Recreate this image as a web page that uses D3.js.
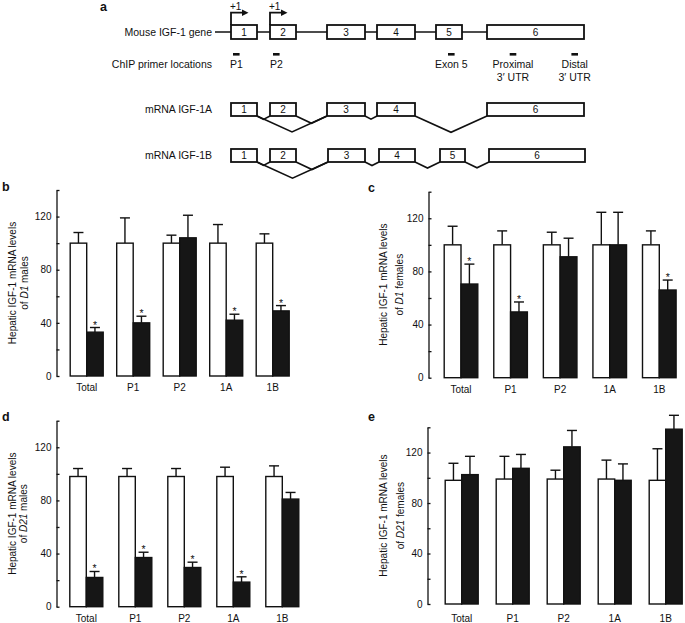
<!DOCTYPE html>
<html>
<head>
<meta charset="utf-8">
<script src="https://cdn.jsdelivr.net/npm/d3@7"></script>
<style>
  body { margin: 0; background: #fff; }
  text { font-family: "Liberation Sans", Arial, sans-serif; fill: #111; }
</style>
</head>
<body>
<svg class="fig"></svg>
<script>
    const width = 685;
    const height = 623;

    // ---- panel a: gene diagram (diagram units, mapped by xGene) ----
    const exonNames = ["1", "2", "3", "4", "5", "6"];
    const geneExons = [[0, 26], [39, 65], [96, 134], [146, 184], [205, 231], [256, 353]];
    const isoA = [0, 1, 2, 3, 5];
    const isoB = [0, 1, 2, 3, 4, 5];
    const isoBExons = [[0, 26], [39, 65], [97, 134], [148, 184], [209, 234], [258, 354]];
    const tssExons = [0, 1];
    const primerNames = [["P1"], ["P2"], ["Exon 5"], ["Proximal", "3\u2032 UTR"], ["Distal", "3\u2032 UTR"]];
    const primerPos = [5.3, 45.3, 220.3, 282, 343.7];

    // ---- bar panels ----
    const categories = ["Total", "P1", "P2", "1A", "1B"];
    const yTicks = [0, 20, 40, 60, 80, 100, 120, 140];

    const bWhite = [100, 100, 100, 100, 100];
    const bWhiteErr = [8, 19, 6, 14, 7];
    const bBlack = [33, 40, 104, 42, 49];
    const bBlackErr = [3.5, 5, 17, 4.5, 4];
    const bSig = [1, 1, 0, 1, 1];

    const cWhite = [100, 100, 100, 100, 100];
    const cWhiteErr = [14, 10.5, 9.5, 24.5, 10.5];
    const cBlack = [70.5, 49.5, 91, 100, 66];
    const cBlackErr = [15, 7.5, 14, 24.5, 7.5];
    const cSig = [1, 1, 0, 0, 1];

    const dWhite = [98, 98, 98, 98, 98];
    const dWhiteErr = [6, 6, 6, 7, 8];
    const dBlack = [22, 37, 29.5, 18.5, 81];
    const dBlackErr = [4.5, 4, 4, 4, 5];
    const dSig = [1, 1, 1, 1, 0];

    const eWhite = [98, 99, 99, 99, 98];
    const eWhiteErr = [13.5, 18, 7, 15, 25];
    const eBlack = [102.5, 107.5, 124.5, 98, 138.5];
    const eBlackErr = [14.5, 11, 13, 13, 11];
    const eSig = [0, 0, 0, 0, 0];

    const svg = d3.select('.fig')
      .attr('width', width).attr('height', height);
    svg.append('rect').attr('width', width).attr('height', height).attr('fill', '#fff');

    drawGene();

    const panels = [
      { letter: 'b', white: bWhite, wErr: bWhiteErr, black: bBlack, kErr: bBlackErr, sig: bSig,
        mouse: 'D1', sex: 'males', ax: 56.5, y0: 376, yTop: 190, first: 86.7, last: 272.7, bw: 16.5,
        lx: 2, ly: 191, t1: 12.5, t2: 24, xl: 391 },
      { letter: 'c', white: cWhite, wErr: cWhiteErr, black: cBlack, kErr: cBlackErr, sig: cSig,
        mouse: 'D1', sex: 'females', ax: 428.5, y0: 377.7, yTop: 191.7, first: 461, last: 659.3, bw: 16.8,
        lx: 368, ly: 192, t1: 383, t2: 399, xl: 393 },
      { letter: 'd', white: dWhite, wErr: dWhiteErr, black: dBlack, kErr: dBlackErr, sig: dSig,
        mouse: 'D21', sex: 'males', ax: 56.5, y0: 606.7, yTop: 420.7, first: 86.3, last: 282.3, bw: 16.5,
        lx: 2, ly: 421, t1: 12.5, t2: 23.5, xl: 622 },
      { letter: 'e', white: eWhite, wErr: eWhiteErr, black: eBlack, kErr: eBlackErr, sig: eSig,
        mouse: 'D21', sex: 'females', ax: 427.5, y0: 604, yTop: 427.3, first: 461.7, last: 665.7, bw: 16.5,
        lx: 368, ly: 420.5, t1: 383, t2: 400, xl: 622 }
    ];
    panels.forEach(drawBars);

    function drawGene() {
      const g = svg.append('g');
      const x = d3.scaleLinear().domain([0, 355]).range([231, 586]);
      const labelX = 212;

      g.append('text').attr('x', 100).attr('y', 11)
        .style('font-weight', 'bold').style('font-size', '12.5px').text('a');

      // rows: gene, IGF-1A, IGF-1B
      const rows = [
        { name: 'Mouse IGF-1 gene', yc: 32, h: 14, exons: geneExons, idx: [0, 1, 2, 3, 4, 5], spliced: false },
        { name: 'mRNA IGF-1A', yc: 109.5, h: 13, exons: geneExons, idx: isoA, spliced: true },
        { name: 'mRNA IGF-1B', yc: 155.5, h: 13, exons: isoBExons, idx: isoB, spliced: true }
      ];

      rows.forEach(row => {
        g.append('text').attr('x', labelX).attr('y', row.yc + 3.8)
          .attr('text-anchor', 'end').style('font-size', '10.5px').text(row.name);

        if (!row.spliced) {
          g.append('line')
            .attr('x1', 215).attr('x2', x(row.exons[5][0]))
            .attr('y1', row.yc).attr('y2', row.yc)
            .attr('stroke', '#111').attr('stroke-width', 1.6);
        } else {
          const bottom = row.yc + row.h / 2;
          for (let i = 0; i < row.idx.length - 1; i++) {
            const a = row.exons[row.idx[i]], b = row.exons[row.idx[i + 1]];
            const x1 = x(a[1]), x2 = x(b[0]);
            const depth = 0.22 * (x2 - x1) + 0.5;
            g.append('polyline')
              .attr('points', [[x1, bottom], [(x1 + x2) / 2, bottom + depth], [x2, bottom]].join(' '))
              .attr('fill', 'none').attr('stroke', '#111').attr('stroke-width', 1.6);
          }
          // exon 2 also splices to exon 3 via the first junction
          if (row.idx[1] === 1) {
            const a = row.exons[0], b = row.exons[2];
            const x1 = x(a[1]), x2 = x(b[0]);
            const depth = 0.22 * (x2 - x1) + 0.5;
            g.append('polyline')
              .attr('points', [[x1, bottom], [(x1 + x2) / 2, bottom + depth], [x2, bottom]].join(' '))
              .attr('fill', 'none').attr('stroke', '#111').attr('stroke-width', 1.6);
          }
        }

        row.idx.forEach(i => {
          const e = row.exons[i];
          g.append('rect')
            .attr('x', x(e[0])).attr('y', row.yc - row.h / 2)
            .attr('width', x(e[1]) - x(e[0])).attr('height', row.h)
            .attr('fill', '#fff').attr('stroke', '#111').attr('stroke-width', 1.8);
          g.append('text')
            .attr('x', (x(e[0]) + x(e[1])) / 2).attr('y', row.yc + 3.6)
            .attr('text-anchor', 'middle').style('font-size', '10px').text(exonNames[i]);
        });
      });

      // transcription start arrows
      const top = 32 - 7;
      tssExons.forEach(i => {
        const x0 = x(geneExons[i][0]);
        g.append('polyline')
          .attr('points', [[x0, top], [x0, 12.7], [x0 + 12, 12.7]].join(' '))
          .attr('fill', 'none').attr('stroke', '#111').attr('stroke-width', 1.8);
        g.append('path')
          .attr('d', `M${x0 + 11},9.5 L${x0 + 17.5},12.7 L${x0 + 11},15.9 Z`)
          .attr('fill', '#111');
        g.append('text').attr('x', x0 - 1).attr('y', 9.5)
          .style('font-size', '10px').text('+1');
      });

      // ChIP primers
      g.append('text').attr('x', labelX).attr('y', 67.7)
        .attr('text-anchor', 'end').style('font-size', '10.5px').text('ChIP primer locations');
      primerPos.forEach((p, i) => {
        g.append('rect')
          .attr('x', x(p) - 3.3).attr('y', 53).attr('width', 6.6).attr('height', 2.6)
          .attr('fill', '#111');
        primerNames[i].forEach((s, j) => {
          g.append('text')
            .attr('x', x(p)).attr('y', 67.7 + j * 13.5)
            .attr('text-anchor', 'middle').style('font-size', '10.5px').text(s);
        });
      });
    }

    function drawBars(p) {
      const g = svg.append('g');
      const y = d3.scaleLinear().domain([0, 140]).range([p.y0, p.yTop]);
      const xc = d3.scalePoint().domain(categories).range([p.first, p.last]);

      g.append('text').attr('x', p.lx).attr('y', p.ly)
        .style('font-weight', 'bold').style('font-size', '12.5px').text(p.letter);

      const axis = d3.axisLeft(y)
        .tickValues(yTicks)
        .tickFormat(d => d % 40 === 0 ? d : '')
        .tickSizeInner(-3)
        .tickSizeOuter(0)
        .tickPadding(5);
      const ag = g.append('g').attr('transform', `translate(${p.ax},0)`).call(axis);
      ag.select('.domain').attr('stroke', '#111').attr('stroke-width', 1.3);
      ag.selectAll('.tick line').attr('stroke', '#111').attr('stroke-width', 1.3);
      ag.selectAll('.tick text')
        .style('font-family', '"Liberation Sans", Arial, sans-serif')
        .style('font-size', '10px').attr('fill', '#111');

      // y label
      const midY = (p.y0 + p.yTop) / 2;
      g.append('text')
        .attr('transform', `translate(${p.t1},${midY}) rotate(-90)`)
        .attr('text-anchor', 'middle').attr('dy', '0.35em')
        .style('font-size', '10px').text('Hepatic IGF-1 mRNA levels');
      const t2 = g.append('text')
        .attr('transform', `translate(${p.t2},${midY}) rotate(-90)`)
        .attr('text-anchor', 'middle').attr('dy', '0.35em')
        .style('font-size', '10px');
      t2.append('tspan').text('of ');
      t2.append('tspan').style('font-style', 'italic').text(p.mouse);
      t2.append('tspan').text(' ' + p.sex);

      const series = [
        { vals: p.white, err: p.wErr, off: -p.bw, fill: '#fff' },
        { vals: p.black, err: p.kErr, off: 0, fill: '#161616' }
      ];

      series.forEach(s => {
        // error bars (upward only)
        categories.forEach((c, i) => {
          const cx = xc(c) + s.off + p.bw / 2;
          const t = y(s.vals[i] + s.err[i]);
          g.append('line').attr('x1', cx).attr('x2', cx)
            .attr('y1', y(s.vals[i])).attr('y2', t)
            .attr('stroke', '#111').attr('stroke-width', 1.4);
          g.append('line').attr('x1', cx - 5).attr('x2', cx + 5)
            .attr('y1', t).attr('y2', t)
            .attr('stroke', '#111').attr('stroke-width', 1.4);
        });
        g.selectAll(null)
          .data(categories)
          .enter()
          .append('rect')
          .attr('x', c => xc(c) + s.off)
          .attr('y', (c, i) => y(s.vals[i]))
          .attr('width', p.bw)
          .attr('height', (c, i) => p.y0 - y(s.vals[i]))
          .attr('fill', s.fill)
          .attr('stroke', '#111')
          .attr('stroke-width', 1.4);
      });

      // significance asterisks
      categories.forEach((c, i) => {
        if (!p.sig[i]) return;
        g.append('text')
          .attr('x', xc(c) + p.bw / 2)
          .attr('y', y(p.black[i] + p.kErr[i]) + 1)
          .attr('text-anchor', 'middle').style('font-size', '10.5px').text('*');
      });

      // category labels
      categories.forEach(c => {
        g.append('text').attr('x', xc(c)).attr('y', p.xl)
          .attr('text-anchor', 'middle').style('font-size', '10px').text(c);
      });
    }
</script>
</body>
</html>
